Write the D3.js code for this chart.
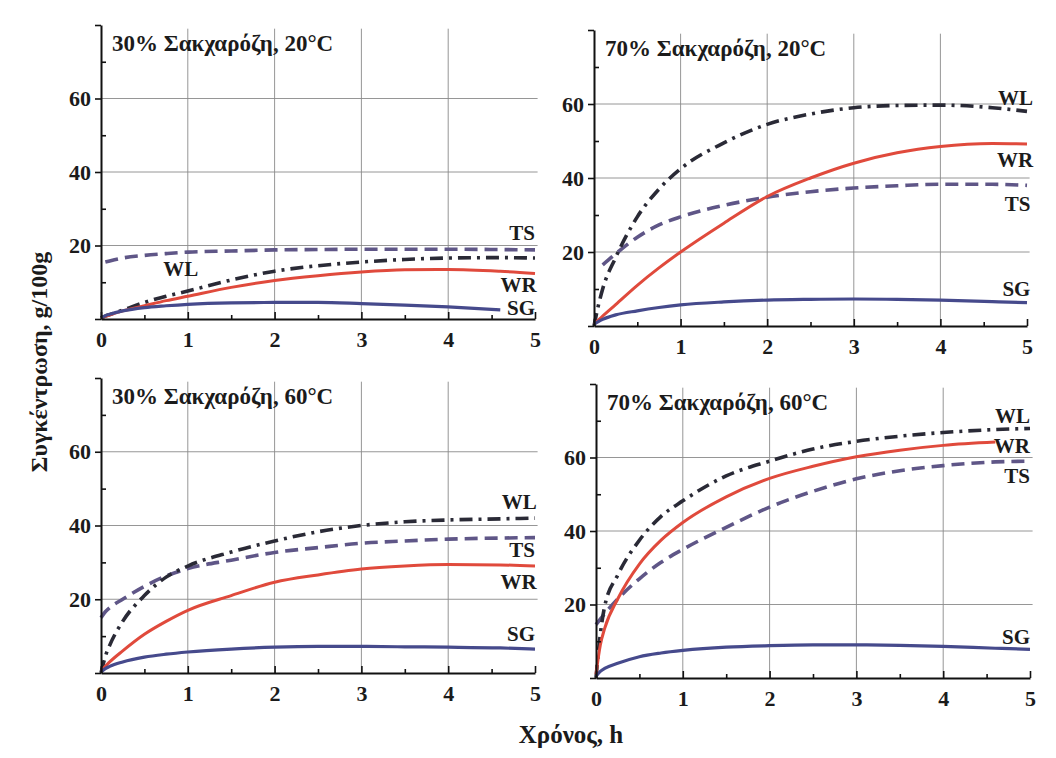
<!DOCTYPE html>
<html>
<head>
<meta charset="utf-8">
<script src="https://cdn.jsdelivr.net/npm/d3@7"></script>
<style>
  html, body { margin: 0; padding: 0; background: #ffffff; }
  svg { display: block; }
  text { font-family: "Liberation Serif", "Times New Roman", serif; font-weight: bold; fill: #1b1b1b; }
</style>
</head>
<body>
<svg id="chart" width="1056" height="758"></svg>
<script>
// ---------------- DATA ----------------
const times = [0, 0.05, 0.1, 0.25, 0.5, 0.75, 1, 1.5, 2, 2.5, 3, 3.5, 4, 4.6, 5];
const xTickValues = [0, 1, 2, 3, 4, 5];
const yTickValues = [20, 40, 60];
const panelTitles = [
  "30% Σακχαρόζη, 20°C",
  "70% Σακχαρόζη, 20°C",
  "30% Σακχαρόζη, 60°C",
  "70% Σακχαρόζη, 60°C"
];
const seriesNames = ["TS", "WL", "WR", "SG"];
const yAxisTitle = "Συγκέντρωση, g/100g";
const xAxisTitle = "Χρόνος, h";

// 30% sucrose, 20°C
const p1TS = [null, 15.5, 15.8, 16.6, 17.3, 17.8, 18.2, 18.5, 18.8, 18.9, 19.0, 19.0, 19.0, 18.9, 18.8];
const p1WL = [0.3, 0.8, 1.2, 2.4, 4.5, 6.2, 7.6, 10.6, 13.0, 14.5, 15.5, 16.2, 16.6, 16.7, 16.6];
const p1WR = [0.3, 0.7, 1.1, 2.2, 3.6, 5.0, 6.2, 8.6, 10.5, 11.8, 12.8, 13.4, 13.5, 13.0, 12.4];
const p1SG = [0.3, 0.9, 1.3, 2.2, 3.1, 3.6, 4.0, 4.4, 4.5, 4.5, 4.2, 3.8, 3.3, 2.5, null];

// 70% sucrose, 20°C
const p2TS = [null, null, 16.5, 19.5, 24.0, 27.3, 29.5, 32.6, 34.8, 36.3, 37.3, 37.9, 38.3, 38.3, 38.0];
const p2WL = [0, 5.5, 10.0, 18.5, 29.5, 37.0, 42.5, 49.5, 54.5, 57.3, 59.0, 59.6, 59.7, 59.0, 58.0];
const p2WR = [0.5, 1.6, 2.7, 5.8, 11.0, 15.7, 20.0, 27.8, 35.0, 40.0, 44.0, 46.8, 48.5, 49.3, 49.2];
const p2SG = [0.5, 1.2, 1.8, 3.0, 4.1, 5.0, 5.7, 6.5, 7.0, 7.2, 7.3, 7.2, 7.0, 6.6, 6.3];

// 30% sucrose, 60°C
const p3TS = [15.0, 16.6, 17.7, 20.0, 23.5, 26.3, 28.3, 30.6, 32.7, 34.0, 35.2, 35.8, 36.3, 36.6, 36.7];
const p3WL = [0, 4.5, 7.5, 14.0, 21.0, 26.0, 29.0, 32.8, 35.8, 38.3, 40.0, 41.0, 41.5, 41.8, 42.0];
const p3WR = [0.5, 1.8, 3.0, 6.0, 10.5, 14.0, 17.0, 21.0, 24.6, 26.6, 28.2, 29.0, 29.4, 29.3, 29.0];
const p3SG = [0.3, 1.2, 1.8, 3.0, 4.3, 5.1, 5.7, 6.5, 7.0, 7.2, 7.2, 7.1, 7.0, 6.8, 6.5];

// 70% sucrose, 60°C
const p4TS = [14.5, 16.0, 17.5, 21.5, 27.0, 31.5, 35.0, 41.0, 46.5, 50.8, 54.2, 56.4, 57.8, 58.8, 59.0];
const p4WL = [0, 12.0, 19.5, 28.0, 37.5, 44.0, 48.2, 55.0, 59.0, 62.3, 64.4, 65.8, 66.8, 67.6, 67.9];
const p4WR = [1.0, 9.0, 13.5, 21.5, 31.0, 37.5, 42.3, 49.3, 54.3, 57.6, 60.2, 62.0, 63.3, 64.2, null];
const p4SG = [0.5, 1.8, 2.6, 4.0, 5.8, 6.8, 7.5, 8.4, 8.8, 9.0, 9.0, 8.9, 8.6, 8.1, 7.8];

const panelSeries = [
  { TS: p1TS, WL: p1WL, WR: p1WR, SG: p1SG },
  { TS: p2TS, WL: p2WL, WR: p2WR, SG: p2SG },
  { TS: p3TS, WL: p3WL, WR: p3WR, SG: p3SG },
  { TS: p4TS, WL: p4WL, WR: p4WR, SG: p4SG }
];

// ---------------- LAYOUT / STYLE ----------------
const panels = [
  { left: 101, right: 535, bottom: 319, top: 25 },
  { left: 594, right: 1027, bottom: 326, top: 30 },
  { left: 101, right: 535, bottom: 673, top: 378 },
  { left: 596, right: 1030, bottom: 678, top: 384 }
];
// curve label anchors in data units [time, value, anchor]
const labelAnchors = [
  { TS: [5.0, 21.5, "end"], WL: [0.92, 11.7, "middle"], WR: [5.02, 7.4, "end"], SG: [5.0, 1.0, "end"] },
  { WL: [5.07, 59.7, "end"], WR: [5.07, 43.0, "end"], TS: [5.04, 31.1, "end"], SG: [5.04, 8.1, "end"] },
  { WL: [5.02, 44.5, "end"], TS: [5.0, 31.5, "end"], WR: [5.02, 22.8, "end"], SG: [5.0, 8.7, "end"] },
  { WL: [5.0, 69.4, "end"], WR: [5.0, 61.2, "end"], TS: [5.0, 53.1, "end"], SG: [5.0, 9.3, "end"] }
];
const styles = {
  TS: { color: "#5f5687", width: 3.6, dash: "13,7" },
  WL: { color: "#2a2a36", width: 3.6, dash: "13,6,3,6" },
  WR: { color: "#e04a3c", width: 3.0, dash: null },
  SG: { color: "#464a8c", width: 3.2, dash: null }
};

const svg = d3.select("#chart");

panels.forEach((p, i) => {
  const x = d3.scaleLinear().domain([0, 5]).range([p.left, p.right]);
  const y = d3.scaleLinear().domain([0, 80]).range([p.bottom, p.top]);
  const g = svg.append("g");

  // grid
  g.append("g").selectAll("line").data([1, 2, 3, 4]).join("line")
    .attr("x1", d => x(d)).attr("x2", d => x(d))
    .attr("y1", y(0)).attr("y2", y(79))
    .attr("stroke", "#8a8a8a").attr("stroke-width", 0.9);
  g.append("g").selectAll("line").data(yTickValues).join("line")
    .attr("x1", x(0)).attr("x2", x(5.03))
    .attr("y1", d => y(d)).attr("y2", d => y(d))
    .attr("stroke", "#8a8a8a").attr("stroke-width", 0.9);

  // lines
  const line = d3.line()
    .defined(d => d[1] !== null)
    .x(d => x(d[0])).y(d => y(d[1]))
    .curve(d3.curveMonotoneX);
  seriesNames.forEach(name => {
    const vals = panelSeries[i][name];
    const pts = times.map((t, k) => [t, vals[k]]);
    const st = styles[name];
    g.append("path").datum(pts)
      .attr("d", line)
      .attr("fill", "none")
      .attr("stroke", st.color)
      .attr("stroke-width", st.width)
      .attr("stroke-linecap", "butt")
      .attr("stroke-dasharray", st.dash);
  });

  // axes
  const yAxis = d3.axisLeft(y).tickValues([0, 20, 40, 60, 80])
    .tickSize(6).tickSizeOuter(0).tickPadding(4)
    .tickFormat(d => (d === 0 || d === 80) ? "" : d3.format("d")(d));
  const ya = g.append("g").attr("transform", `translate(${x(0)},0)`).call(yAxis);
  const yMinor = d3.axisLeft(y).tickValues([10, 30, 50, 70]).tickSize(-5).tickSizeOuter(0).tickFormat("");
  const ym = g.append("g").attr("transform", `translate(${x(0)},0)`).call(yMinor);
  ym.select(".domain").remove();

  const xAxis = d3.axisBottom(x).tickValues(xTickValues)
    .tickSize(-7).tickSizeOuter(0).tickPadding(12)
    .tickFormat(d3.format("d"));
  const xa = g.append("g").attr("transform", `translate(0,${y(0)})`).call(xAxis);
  const xMinor = d3.axisBottom(x).tickValues([0.5, 1.5, 2.5, 3.5, 4.5]).tickSize(-4).tickSizeOuter(0).tickFormat("");
  const xm = g.append("g").attr("transform", `translate(0,${y(0)})`).call(xMinor);
  xm.select(".domain").remove();

  [ya, ym, xa, xm].forEach(a => {
    a.selectAll("path.domain").attr("stroke", "#111").attr("stroke-width", 2);
    a.selectAll(".tick line").attr("stroke", "#111").attr("stroke-width", 1.6);
    a.selectAll(".tick text")
      .attr("font-family", '"Liberation Serif", "Times New Roman", serif')
      .attr("font-weight", "bold").attr("font-size", 22).attr("fill", "#1b1b1b");
  });

  // panel title
  g.append("text")
    .attr("x", x(0) + 11).attr("y", y(80) + 26)
    .attr("font-size", 23)
    .text(panelTitles[i]);

  // curve labels
  Object.entries(labelAnchors[i]).forEach(([name, a]) => {
    g.append("text")
      .attr("x", x(a[0])).attr("y", y(a[1]))
      .attr("text-anchor", a[2])
      .attr("font-size", 21)
      .text(name);
  });
});

// axis titles
svg.append("text")
  .attr("transform", "translate(47,362) rotate(-90)")
  .attr("text-anchor", "middle")
  .attr("font-size", 24)
  .text(yAxisTitle);
svg.append("text")
  .attr("x", 571).attr("y", 743)
  .attr("text-anchor", "middle")
  .attr("font-size", 25)
  .text(xAxisTitle);
</script>
</body>
</html>
